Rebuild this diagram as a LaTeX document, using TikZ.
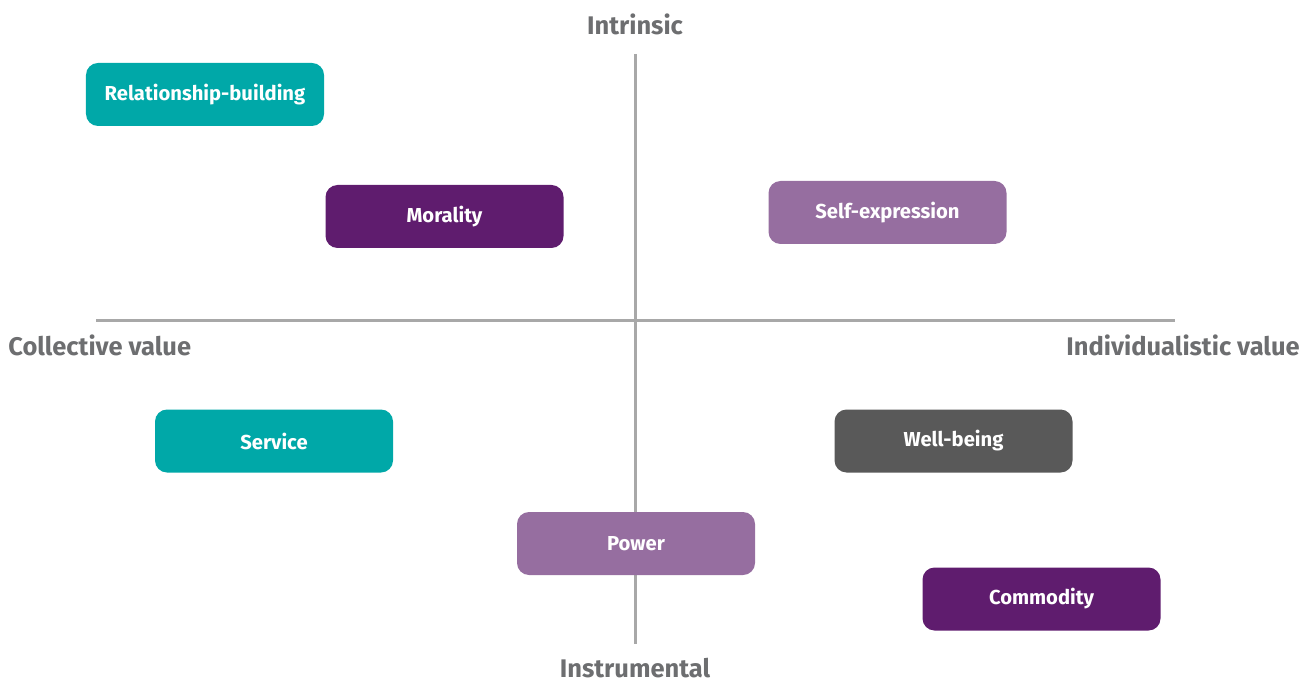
\documentclass[tikz,border=0pt]{standalone}
\usepackage{fontspec}
\setmainfont{Fira Sans}
\definecolor{teal}{HTML}{00A8A8}
\definecolor{plum}{HTML}{5F1C6E}
\definecolor{lilac}{HTML}{966EA0}
\definecolor{slate}{HTML}{595959}
\definecolor{axisgray}{HTML}{A8A8A8}
\definecolor{labelgray}{HTML}{6D6E70}
\tikzset{
  valbox/.style={fill=#1,text=white,rounded corners=2.4mm,minimum width=47.6mm,minimum height=12.6mm,font=\bfseries\fontsize{11.5}{13}\selectfont,inner sep=0pt},
  axislabel/.style={text=labelgray,font=\bfseries\fontsize{14.5}{17}\selectfont,inner sep=0pt}
}
\begin{document}
\begin{tikzpicture}[x=0.2mm,y=-0.2mm]
            \useasboundingbox (0,0) rectangle (1314,684);
            % axes
            \coordinate (top) at (635,54);
            \coordinate (bottom) at (635,644);
            \coordinate (left) at (96,320);
            \coordinate (right) at (1175,320);
            \draw[axisgray,line width=0.6mm] (top)--(bottom);
            \draw[axisgray,line width=0.6mm] (left)--(right);
            \node[axislabel] (intrinsic) at (635,24) {Intrinsic};
            \node[axislabel] (instrumental) at (635,668) {Instrumental};
            \node[axislabel,anchor=west] (collective) at (8,345) {Collective value};
            \node[axislabel,anchor=east] (individual) at (1300,345) {Individualistic value};
            % values
            \node[valbox=teal] (relationship) at (205,94.5) {Relationship-building};
            \node[valbox=plum] (morality) at (444.5,216.5) {Morality};
            \node[valbox=lilac] (selfexpr) at (887.5,212.5) {Self-expression};
            \node[valbox=teal] (service) at (274,441) {Service};
            \node[valbox=slate] (wellbeing) at (953.5,441) {Well-being};
            \node[valbox=lilac] (power) at (636,543.5) {Power};
            \node[valbox=plum] (commodity) at (1041.5,599) {Commodity};
        \end{tikzpicture}
\end{document}
